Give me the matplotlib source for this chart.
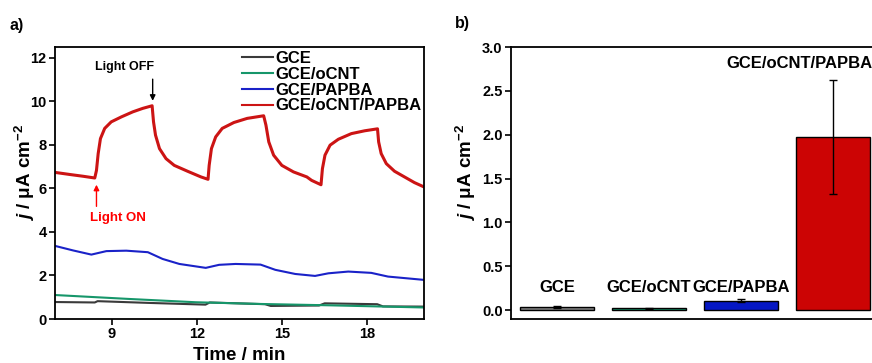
import numpy as np
import matplotlib.pyplot as plt

plt.rcParams['font.family'] = ['Liberation Sans', 'DejaVu Sans']
plt.rcParams['font.weight'] = 'bold'
plt.rcParams['mathtext.fontset'] = 'custom'
plt.rcParams['mathtext.rm'] = 'Liberation Sans:bold'
plt.rcParams['mathtext.it'] = 'Liberation Sans:italic:bold'
plt.rcParams['mathtext.bf'] = 'Liberation Sans:bold'

# chronoamperometry traces (time in min, current density in uA/cm2)
t_red = [7.04, 7.53, 7.99, 8.40, 8.46, 8.52, 8.60, 8.75, 8.98, 9.34, 9.74, 10.09, 10.42,
         10.47, 10.54, 10.68, 10.91, 11.20, 11.67, 12.14, 12.39,
         12.43, 12.51, 12.66, 12.89, 13.30, 13.77, 14.35,
         14.43, 14.53, 14.70, 14.99, 15.40, 15.87, 16.04, 16.37,
         16.42, 16.51, 16.69, 16.98, 17.44, 17.91, 18.36,
         18.40, 18.49, 18.67, 18.96, 19.31, 19.66, 19.98]
j_red = [6.73, 6.64, 6.56, 6.48, 6.83, 7.60, 8.29, 8.76, 9.06, 9.29, 9.52, 9.68, 9.80,
         9.06, 8.45, 7.83, 7.37, 7.06, 6.79, 6.53, 6.42,
         7.06, 7.83, 8.37, 8.76, 9.03, 9.22, 9.34,
         8.91, 8.14, 7.53, 7.06, 6.76, 6.53, 6.37, 6.17,
         6.91, 7.53, 7.99, 8.26, 8.52, 8.65, 8.74,
         8.14, 7.60, 7.14, 6.79, 6.53, 6.27, 6.08]

t_blue = [7.03, 7.64, 8.28, 8.81, 9.51, 10.27, 10.79, 11.38, 12.31, 12.78,
          13.36, 14.24, 14.76, 15.46, 16.16, 16.63, 17.33, 18.14, 18.73, 19.98]
j_blue = [3.35, 3.15, 2.96, 3.12, 3.14, 3.07, 2.76, 2.53, 2.35, 2.49,
          2.53, 2.50, 2.26, 2.07, 1.98, 2.10, 2.18, 2.12, 1.95, 1.80]

t_green = [7.03, 9.63, 11.96, 14.29, 16.63, 19.98]
j_green = [1.10, 0.92, 0.77, 0.69, 0.63, 0.53]

t_gray = [7.03, 8.40, 8.50, 10.30, 12.30, 12.45, 14.40, 14.60, 16.30, 16.50, 18.35, 18.55, 19.98]
j_gray = [0.78, 0.76, 0.82, 0.74, 0.66, 0.76, 0.68, 0.60, 0.62, 0.72, 0.68, 0.58, 0.57]

# photocurrent summary
electrodes = ['GCE', 'GCE/oCNT', 'GCE/PAPBA', 'GCE/oCNT/PAPBA']
photocurrent = [0.04, 0.02, 0.11, 1.975]
photocurrent_err = [0.012, 0.008, 0.018, 0.65]
colors = ['#7f7f7f', '#149a6e', '#0517c4', '#cc0404']
line_colors = ['#3a3a3a', '#16966a', '#1a22c8', '#cc1414']

fig = plt.figure(figsize=(8.72, 3.63), dpi=100)
ax1 = fig.add_axes([0.0631, 0.1212, 0.4232, 0.7493])
ax2 = fig.add_axes([0.586, 0.1212, 0.422, 0.7493])

# panel a: transient curves
ax1.plot(t_gray, j_gray, color=line_colors[0], lw=1.5, label=electrodes[0])
ax1.plot(t_green, j_green, color=line_colors[1], lw=1.5, label=electrodes[1])
ax1.plot(t_blue, j_blue, color=line_colors[2], lw=1.5, label=electrodes[2])
ax1.plot(t_red, j_red, color=line_colors[3], lw=2.2, label=electrodes[3])
ax1.set_xlim(7, 20)
ax1.set_ylim(0, 12.5)
ax1.set_xticks([9, 12, 15, 18])
ax1.set_yticks([0, 2, 4, 6, 8, 10, 12])
ax1.set_xlabel('Time / min', fontsize=13.5, fontweight='bold', labelpad=4)
ax1.set_ylabel(r'$j$ / μA cm$^{-2}$', fontsize=13.5, fontweight='bold')
ax1.yaxis.set_label_coords(-0.048, 0.54)
leg = ax1.legend(loc='upper right', bbox_to_anchor=(1.012, 1.01), frameon=False, fontsize=12,
                 handlelength=1.9, handletextpad=0.15, labelspacing=0.05, borderaxespad=0.0)
for h in leg.get_lines():
    h.set_linewidth(1.5)

ax1.annotate('', xy=(10.44, 9.9), xytext=(10.44, 11.15),
             arrowprops=dict(arrowstyle='-|>', color='black', lw=1, mutation_scale=8))
ax1.text(9.45, 11.6, 'Light OFF', fontsize=9, fontweight='bold', ha='center', va='center')
ax1.annotate('', xy=(8.46, 6.3), xytext=(8.46, 5.05),
             arrowprops=dict(arrowstyle='-|>', color='red', lw=1, mutation_scale=8))
ax1.text(9.23, 4.62, 'Light ON', fontsize=9.5, fontweight='bold', color='red',
         ha='center', va='center')

# panel b: bar chart of photocurrent
xpos = np.arange(1, len(electrodes) + 1)
ax2.bar(xpos, photocurrent, width=0.81, color=colors, edgecolor='black', lw=1,
        yerr=photocurrent_err, capsize=3, error_kw=dict(lw=1, capthick=1, ecolor='black'))
for x, name in zip(xpos[:3], electrodes[:3]):
    ax2.text(x, 0.26, name, fontsize=12, fontweight='bold', ha='center', va='center')
ax2.text(3.63, 2.81, electrodes[3], fontsize=12, fontweight='bold', ha='center', va='center')
ax2.set_xlim(0.5, 4.5)
ax2.set_ylim(-0.1, 3.0)
ax2.set_yticks([0, 0.5, 1.0, 1.5, 2.0, 2.5, 3.0])
ax2.set_yticklabels(['0.0', '0.5', '1.0', '1.5', '2.0', '2.5', '3.0'])
ax2.set_xticks([])
ax2.set_ylabel(r'$j$ / μA cm$^{-2}$', fontsize=13.5, fontweight='bold')
ax2.yaxis.set_label_coords(-0.09, 0.54)

for ax in (ax1, ax2):
    for s in ax.spines.values():
        s.set_linewidth(1.3)
    ax.tick_params(direction='out', length=4, width=1.2, labelsize=10.5, pad=2)
    for lab in ax.get_xticklabels() + ax.get_yticklabels():
        lab.set_fontweight('bold')

fig.text(0.011, 0.93, 'a)', fontsize=11.5, fontweight='bold', va='center')
fig.text(0.522, 0.935, 'b)', fontsize=11.5, fontweight='bold', va='center')

fig.savefig('out.png', dpi=100)
